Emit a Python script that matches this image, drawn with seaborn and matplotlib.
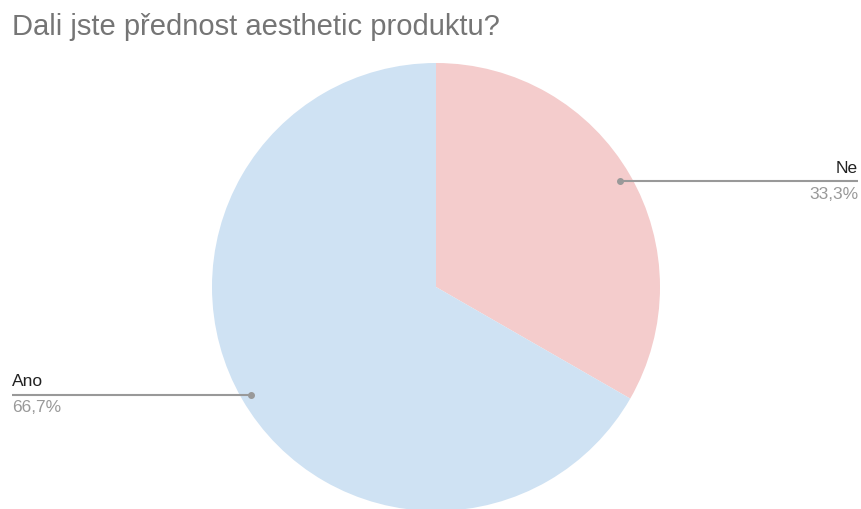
import matplotlib
matplotlib.use("Agg")
import matplotlib.pyplot as plt
import seaborn as sns

# Survey answers and their shares
labels = ["Ne", "Ano"]
shares = [33.3, 66.7]
colors = ["#f4cccc", "#cfe2f3"]
title = "Dali jste přednost aesthetic produktu?"

sns.set_theme(style="white")
plt.rcParams["font.family"] = ["Liberation Sans", "DejaVu Sans"]

W, H = 862, 509
fig = plt.figure(figsize=(W / 100, H / 100), dpi=100)
ax = fig.add_axes([0, 0, 1, 1])

cx, cy, r = 436, H - 287, 224
ax.pie(shares, colors=colors, startangle=90, counterclock=False,
       center=(cx, cy), radius=r, frame=True,
       wedgeprops=dict(linewidth=0))
ax.set_xlim(0, W)
ax.set_ylim(0, H)
ax.set_aspect("equal")
ax.axis("off")

line_c = "#999999"
txt_c = "#222222"
pct_c = "#999999"
fs = 12.5

def fmt(v):
    return f"{v:.1f}".replace(".", ",") + "%"

# Ne leader on the right
y1 = H - 181
ax.plot([620, 858], [y1, y1], color=line_c, lw=1.5, solid_capstyle="butt")
ax.plot([620], [y1], "o", color=line_c, ms=4)
ax.text(858, y1 + 13, labels[0], ha="right", va="center", fontsize=fs, color=txt_c)
ax.text(858, y1 - 13, fmt(shares[0]), ha="right", va="center", fontsize=fs, color=pct_c)

# Ano leader on the left
y2 = H - 395
ax.plot([12, 251], [y2, y2], color=line_c, lw=1.5, solid_capstyle="butt")
ax.plot([251], [y2], "o", color=line_c, ms=4)
ax.text(12, y2 + 13, labels[1], ha="left", va="center", fontsize=fs, color=txt_c)
ax.text(12, y2 - 13, fmt(shares[1]), ha="left", va="center", fontsize=fs, color=pct_c)

fig.text(12 / W, 1 - 27 / H, title, ha="left", va="center", fontsize=21, color="#757575")

fig.savefig("out.png", dpi=100)
